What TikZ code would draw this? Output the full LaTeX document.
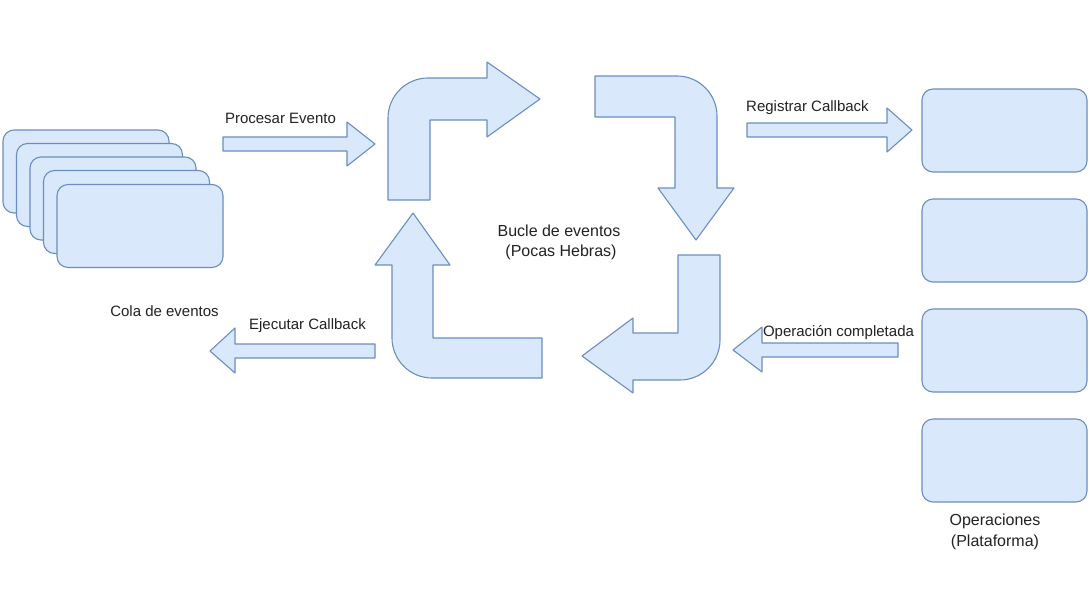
\documentclass[tikz,border=0pt]{standalone}
\usepackage{fontspec}
\setmainfont{Liberation Sans}
\definecolor{boxfill}{HTML}{DAE8FC}
\definecolor{boxline}{HTML}{6C8EBF}
\definecolor{txt}{HTML}{222222}
\tikzset{
  shapefill/.style={fill=boxfill, draw=boxline, line width=1.1pt, line join=round},
  card/.style={shapefill, rectangle, rounded corners=11pt, minimum width=166pt, minimum height=83pt, inner sep=0pt},
  lbl/.style={text=txt, font=\fontsize{15}{18}\selectfont, anchor=base, inner sep=0pt},
  biglbl/.style={text=txt, font=\fontsize{16}{19}\selectfont, anchor=base, inner sep=0pt},
}
\begin{document}
\begin{tikzpicture}[x=1pt,y=-1pt]
\useasboundingbox (0,0) rectangle (1090,613);
\fill[white] (0,0) rectangle (1090,613);

% queue of events (stacked cards)
\node[card] (q1) at (86,171.5) {};
\node[card] (q2) at (99.5,185) {};
\node[card] (q3) at (113,198.5) {};
\node[card] (q4) at (126.5,212) {};
\node[card] (q5) at (140,226) {};
\node[lbl] (cola) at (164.5,316) {Cola de eventos};

% operations (platform)
\node[card, minimum width=165pt] (op1) at (1004.5,130.5) {};
\node[card, minimum width=165pt] (op2) at (1004.5,240.5) {};
\node[card, minimum width=165pt] (op3) at (1004.5,350.5) {};
\node[card, minimum width=165pt] (op4) at (1004.5,460.5) {};
\node[biglbl] (ops1) at (995,525) {Operaciones};
\node[biglbl] (ops2) at (995,546) {(Plataforma)};

% straight block arrows
\draw[shapefill] (223,137) -- (347,137) -- (347,122) -- (375,144) -- (347,166) -- (347,151) -- (223,151) -- cycle;
\node[lbl] (procesar) at (280.5,123) {Procesar Evento};

\draw[shapefill] (375,344) -- (235,344) -- (235,328) -- (210,351) -- (235,373) -- (235,358) -- (375,358) -- cycle;
\node[lbl] (ejecutar) at (307.5,329) {Ejecutar Callback};

\draw[shapefill] (747,123) -- (887,123) -- (887,108) -- (912,130) -- (887,152) -- (887,137) -- (747,137) -- cycle;
\node[lbl] (registrar) at (807.5,111) {Registrar Callback};

\draw[shapefill] (898,343) -- (762,343) -- (762,327) -- (733,350) -- (762,372) -- (762,357) -- (898,357) -- cycle;
\node[lbl] (completada) at (838.5,336) {Operación completada};

% event loop: four bent arrows
\draw[shapefill] (388,200) -- (388,118) .. controls (388,96) and (406,78) .. (428,78) -- (487,78) -- (487,62) -- (540,99) -- (487,137) -- (487,120) -- (430,120) -- (430,200) -- cycle;
\draw[shapefill] (595,76) -- (677,76) .. controls (699,76) and (717,94) .. (717,116) -- (717,188) -- (734,188) -- (696,240) -- (658,188) -- (675,188) -- (675,117) -- (595,117) -- cycle;
\draw[shapefill] (678,255) -- (720,255) -- (720,340) .. controls (720,362) and (702,380) .. (680,380) -- (633,380) -- (633,393) -- (582,356) -- (633,318) -- (633,333) -- (678,333) -- cycle;
\draw[shapefill] (542,338) -- (542,378) -- (432,378) .. controls (410,378) and (392,360) .. (392,338) -- (392,265) -- (375,265) -- (413,213) -- (450,265) -- (433,265) -- (433,338) -- cycle;

\node[biglbl] (bucle1) at (559,236.5) {Bucle de eventos};
\node[biglbl] (bucle2) at (561,256) {(Pocas Hebras)};
\end{tikzpicture}
\end{document}
